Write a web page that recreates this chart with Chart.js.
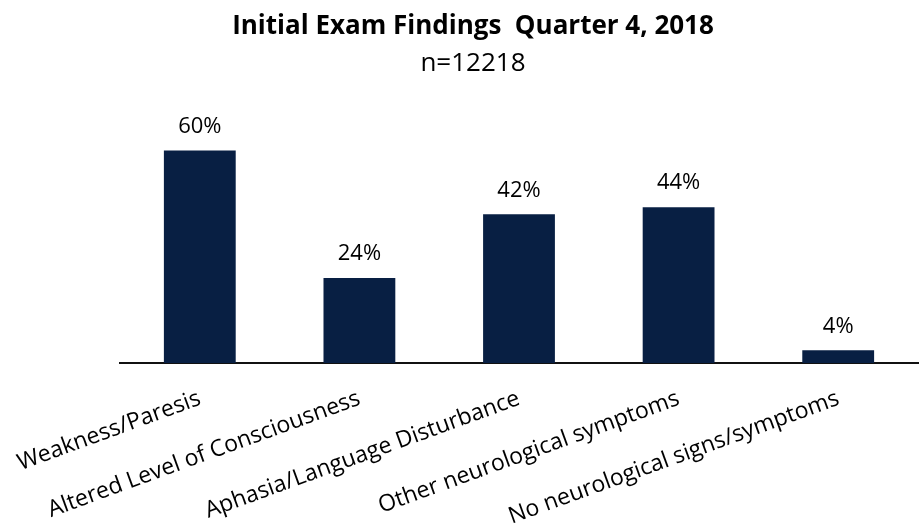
<!DOCTYPE html>
<html>
<head>
<meta charset="utf-8">
<script src="https://cdn.jsdelivr.net/npm/chart.js@4.4.1/dist/chart.umd.min.js"></script>
<style>
  html, body { margin: 0; padding: 0; background: #fff; }
  #wrap { width: 919px; height: 525px; }
</style>
</head>
<body>
<div id="wrap"><canvas id="mycanvas" width="919" height="525"></canvas></div>
<script>
var categories = [
	'Weakness/Paresis',
	'Altered Level of Consciousness',
	'Aphasia/Language Disturbance',
	'Other neurological symptoms',
	'No neurological signs/symptoms'
];
var percents = [60, 24, 42, 44, 3.6];
var titleText = 'Initial Exam Findings  Quarter 4, 2018';
var subtitleText = 'n=12218';

var fontName = "'Open Sans', 'Liberation Sans', sans-serif";

// draws the "60%" style labels over each bar
var barLabels = {
	id: 'barLabels',
	afterDatasetsDraw: function(chart) {
		var ctx = chart.ctx;
		var meta = chart.getDatasetMeta(0);
		ctx.save();
		ctx.font = '22px ' + fontName;
		ctx.fillStyle = '#000';
		ctx.textAlign = 'center';
		ctx.textBaseline = 'middle';
		meta.data.forEach(function(bar, i) {
			ctx.fillText(Math.round(percents[i]) + '%', bar.x, bar.y - 24);
		});
		ctx.restore();
	}
};

var chartdata = {
	labels: categories,
	datasets: [
		{
			label: 'Percent',
			backgroundColor: '#081f43',
			data: percents,
			barPercentage: 0.9,
			categoryPercentage: 0.5
		}
	]
};

var barGraph = new Chart(document.getElementById('mycanvas'), {
	type: 'bar',
	data: chartdata,
	plugins: [barLabels],
	options: {
		responsive: false,
		animation: false,
		layout: { padding: { left: 28, right: 1, top: 0, bottom: 0 } },
		plugins: {
			legend: { display: false },
			tooltip: { enabled: false },
			title: {
				display: true,
				text: titleText,
				color: '#000',
				font: { family: fontName, size: 26, weight: 'bold', lineHeight: 1.2 },
				padding: { top: 11, bottom: 6 }
			},
			subtitle: {
				display: true,
				text: subtitleText,
				color: '#000',
				font: { family: fontName, size: 26, lineHeight: 1.2 },
				padding: { top: 0, bottom: 18 }
			}
		},
		scales: {
			x: {
				grid: { display: false },
				border: { display: true, color: '#111', width: 2 },
				ticks: {
					color: '#000',
					font: { family: fontName, size: 23 },
					minRotation: 20,
					maxRotation: 20,
					autoSkip: false,
					padding: 14
				},
				afterFit: function(scale) {
					scale.height = 162;
					scale.paddingLeft = 0;
					scale.paddingRight = 0;
				}
			},
			y: {
				min: 0,
				max: 75,
				grid: { display: false },
				border: { display: false },
				ticks: { display: false },
				afterFit: function(scale) { scale.width = 92; }
			}
		}
	}
});
</script>
</body>
</html>
